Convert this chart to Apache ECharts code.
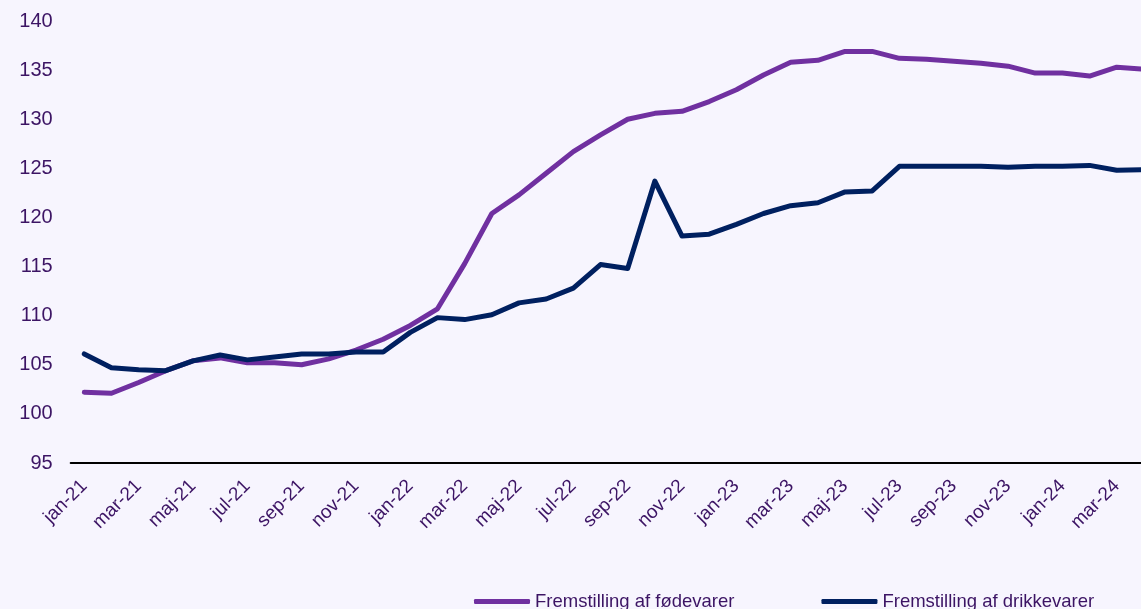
<!DOCTYPE html>
<html>
<head>
<meta charset="utf-8">
<script src="https://cdn.jsdelivr.net/npm/echarts@6/dist/echarts.min.js"></script>
<style>
html,body{margin:0;padding:0;background:#f7f5fe;}
#main{width:1141px;height:609px;}
</style>
</head>
<body>
<div id="main"></div>
<script>
//månedlige kategorier jan-21 .. apr-24
var months = ['jan','feb','mar','apr','maj','jun','jul','aug','sep','okt','nov','dec'];
var categories = [];
for (var y = 21; y <= 24; y++) {
	for (var m = 0; m < 12; m++) {
		if (y == 24 && m > 3) break;
		categories.push(months[m] + '-' + y);
	}
}

var seriesNames = ['Fremstilling af fødevarer', 'Fremstilling af drikkevarer'];

var foedevarer = [102.2, 102.1, 103.2, 104.4, 105.4, 105.7, 105.2, 105.2, 105.0, 105.6,
	106.5, 107.6, 109.0, 110.7, 115.3, 120.4, 122.3, 124.5, 126.7, 128.4,
	130.0, 130.6, 130.8, 131.8, 133.0, 134.5, 135.8, 136.0, 136.9, 136.9,
	136.2, 136.1, 135.9, 135.7, 135.4, 134.7, 134.7, 134.4, 135.3, 135.1];

var drikkevarer = [106.1, 104.7, 104.5, 104.4, 105.4, 106.0, 105.5, 105.8, 106.1, 106.1,
	106.3, 106.3, 108.3, 109.8, 109.6, 110.1, 111.3, 111.7, 112.8, 115.2,
	114.8, 123.7, 118.1, 118.3, 119.3, 120.4, 121.2, 121.5, 122.6, 122.7,
	125.2, 125.2, 125.2, 125.2, 125.1, 125.2, 125.2, 125.3, 124.8, 124.85];

var yMin = 95, yMax = 140, yStep = 5;

var textColor = '#3c1464';
var fontName = '"Liberation Sans", Arial, sans-serif';

var myChart = echarts.init(document.getElementById('main'));
var option = {
	backgroundColor: '#f7f5fe',
	animation: false,
	color: ['#7030a0', '#002060'],
	grid: {
		left: 70.7,
		top: 21,
		width: 27.17 * categories.length, // sidste måned skæres af ved kanten
		bottom: 146,
		containLabel: false,
		outerBoundsMode: 'none'
	},
	legend: {
		left: 469,
		top: 587,
		itemWidth: 56,
		itemHeight: 5,
		itemGap: 87,
		icon: 'roundRect',
		data: seriesNames,
		textStyle: {
			color: textColor,
			fontSize: 18.5,
			fontFamily: fontName
		}
	},
	xAxis: {
		type: 'category',
		data: categories,
		boundaryGap: true,
		axisLine: {
			lineStyle: {
				color: '#000000',
				width: 2
			}
		},
		axisTick: {show: false},
		axisLabel: {
			interval: 1,
			rotate: 45,
			margin: 20,
			color: textColor,
			fontSize: 19,
			fontFamily: fontName
		},
		splitLine: {show: false}
	},
	yAxis: {
		type: 'value',
		min: yMin,
		max: yMax,
		interval: yStep,
		axisLine: {show: false},
		axisTick: {show: false},
		splitLine: {show: false},
		axisLabel: {
			margin: 18,
			color: textColor,
			fontSize: 20,
			fontFamily: fontName
		}
	},
	series: [
		{
			name: seriesNames[0],
			type: 'line',
			data: foedevarer,
			symbol: 'none',
			lineStyle: {width: 5, cap: 'round', join: 'round'}
		},
		{
			name: seriesNames[1],
			type: 'line',
			data: drikkevarer,
			symbol: 'none',
			lineStyle: {width: 5, cap: 'round', join: 'round'}
		}
	]
};
myChart.setOption(option);
</script>
</body>
</html>
